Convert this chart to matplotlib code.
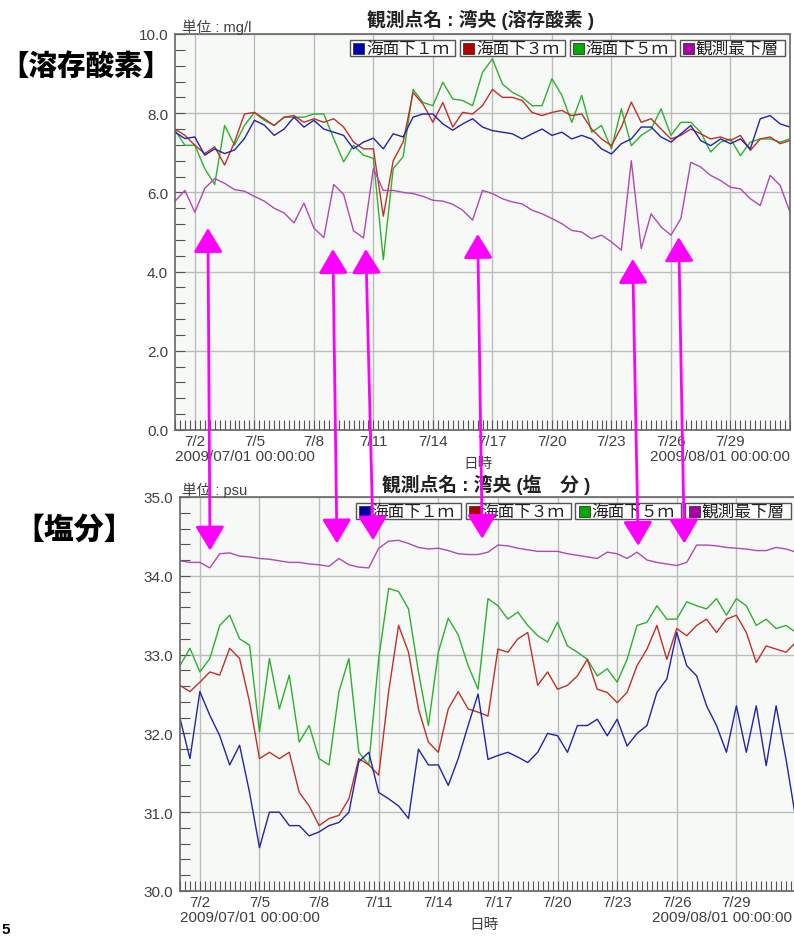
import numpy as np
import pandas as pd
import matplotlib
matplotlib.use('Agg')
import matplotlib.pyplot as plt
import matplotlib.dates as mdates
from matplotlib.patches import ConnectionPatch, Rectangle, ArrowStyle
from matplotlib.ticker import MultipleLocator, FormatStrFormatter

plt.rcParams['font.family'] = ['Liberation Sans', 'Noto Sans CJK JP']

# 12時間ごとの読み取り値 (2009/07/01 00:00 〜 2009/08/01 00:00)
start = pd.Timestamp('2009-07-01')
times = pd.date_range(start, periods=63, freq='12h')

series_labels = ['海面下１ｍ', '海面下３ｍ', '海面下５ｍ', '観測最下層']

# 溶存酸素 (mg/l)
do_1m = [7.52, 7.36, 7.4, 6.94, 7.1, 6.98, 7.07, 7.36, 7.82, 7.7, 7.44, 7.6, 7.9, 7.65, 7.82, 7.6,
         7.52, 7.44, 7.1, 7.27, 7.37, 7.1, 7.48, 7.4, 7.9, 7.98, 7.98, 7.73, 7.57, 7.73, 7.86, 7.65,
         7.56, 7.52, 7.48, 7.35, 7.48, 7.6, 7.44, 7.52, 7.35, 7.44, 7.35, 7.1, 6.97, 7.23, 7.35, 7.65,
         7.65, 7.4, 7.27, 7.48, 7.69, 7.31, 7.18, 7.35, 7.23, 7.35, 7.1, 7.86, 7.94, 7.73, 7.65]
do_3m = [7.6, 7.44, 7.19, 6.98, 7.15, 6.69, 7.27, 7.98, 8.02, 7.86, 7.69, 7.9, 7.94, 7.77, 7.86, 7.77,
         7.86, 7.65, 7.27, 7.1, 7.1, 5.4, 6.8, 7.27, 8.52, 8.23, 7.77, 8.27, 7.65, 8.02, 7.98, 8.19,
         8.6, 8.4, 8.4, 8.32, 8.02, 7.94, 8.02, 8.07, 7.94, 7.98, 7.6, 7.35, 7.18, 7.65, 8.28, 7.77,
         7.86, 7.6, 7.35, 7.44, 7.6, 7.48, 7.35, 7.4, 7.31, 7.44, 7.06, 7.35, 7.4, 7.23, 7.31]
do_5m = [7.57, 7.19, 7.19, 6.6, 6.2, 7.69, 7.19, 7.69, 8.02, 7.82, 7.69, 7.9, 7.9, 7.9, 7.98, 7.98,
         7.36, 6.77, 7.19, 6.94, 6.86, 4.3, 6.6, 6.9, 8.6, 8.27, 8.19, 8.78, 8.36, 8.32, 8.19, 9.03,
         9.37, 8.74, 8.53, 8.4, 8.19, 8.19, 8.87, 8.45, 7.77, 8.45, 7.52, 7.69, 7.1, 8.11, 7.18, 7.44,
         7.6, 8.11, 7.44, 7.77, 7.77, 7.52, 7.02, 7.27, 7.35, 6.93, 7.27, 7.35, 7.35, 7.27, 7.35]
do_bottom = [5.78, 6.05, 5.5, 6.1, 6.35, 6.23, 6.07, 6.03, 5.9, 5.78, 5.6, 5.48, 5.23, 5.73, 5.1, 4.86,
             6.2, 5.95, 5.03, 4.85, 6.6, 6.05, 6.05, 6.0, 5.97, 5.9, 5.8, 5.78, 5.7, 5.55, 5.3, 6.05,
             5.97, 5.84, 5.76, 5.71, 5.55, 5.46, 5.34, 5.21, 5.04, 5.0, 4.83, 4.92, 4.75, 4.54, 6.8, 4.58,
             5.46, 5.13, 4.92, 5.34, 6.76, 6.64, 6.43, 6.3, 6.13, 6.09, 5.84, 5.67, 6.43, 6.18, 5.5]

# 塩分 (psu)
sal_1m = [32.19, 31.68, 32.53, 32.23, 31.97, 31.6, 31.85, 31.25, 30.55, 31.0, 31.0, 30.83, 30.83, 30.7, 30.75, 30.83,
          30.87, 31.0, 31.64, 31.76, 31.25, 31.17, 31.08, 30.92, 31.8, 31.6, 31.6, 31.34, 31.68, 32.1, 32.5, 31.67,
          31.72, 31.76, 31.7, 31.63, 31.76, 32.0, 31.97, 31.76, 32.1, 32.1, 32.18, 31.97, 32.18, 31.84, 32.0, 32.1,
          32.52, 32.69, 33.28, 32.86, 32.73, 32.35, 32.1, 31.76, 32.35, 31.76, 32.35, 31.59, 32.35, 31.67, 30.9]
sal_3m = [32.61, 32.53, 32.65, 32.78, 32.74, 33.08, 32.95, 32.4, 31.68, 31.76, 31.68, 31.76, 31.25, 31.08, 30.83, 30.92,
          30.96, 31.17, 31.68, 31.6, 31.47, 32.53, 33.37, 33.03, 32.31, 31.89, 31.76, 32.31, 32.53, 32.31, 32.27, 32.22,
          33.07, 33.03, 33.2, 33.28, 32.61, 32.78, 32.56, 32.61, 32.73, 32.94, 32.56, 32.52, 32.39, 32.52, 32.86, 33.07,
          33.37, 32.94, 33.33, 33.24, 33.37, 33.45, 33.28, 33.45, 33.5, 33.28, 32.9, 33.11, 33.07, 33.03, 33.16]
sal_5m = [32.86, 33.08, 32.78, 32.95, 33.37, 33.5, 33.2, 33.12, 32.02, 32.95, 32.31, 32.74, 31.89, 32.1, 31.68, 31.6,
          32.53, 32.95, 31.76, 31.6, 32.95, 33.84, 33.8, 33.58, 32.78, 32.1, 33.03, 33.46, 33.25, 32.86, 32.56, 33.71,
          33.62, 33.45, 33.54, 33.37, 33.24, 33.16, 33.41, 33.11, 33.03, 32.94, 32.73, 32.82, 32.65, 32.94, 33.37, 33.41,
          33.62, 33.45, 33.45, 33.67, 33.62, 33.58, 33.71, 33.5, 33.71, 33.62, 33.37, 33.45, 33.33, 33.37, 33.28]
sal_bottom = [34.19, 34.17, 34.17, 34.1, 34.28, 34.29, 34.25, 34.24, 34.22, 34.21, 34.19, 34.17, 34.17, 34.15, 34.14, 34.12,
              34.22, 34.14, 34.11, 34.1, 34.35, 34.44, 34.45, 34.41, 34.36, 34.34, 34.35, 34.32, 34.28, 34.27, 34.27, 34.3,
              34.39, 34.38, 34.35, 34.33, 34.31, 34.31, 34.31, 34.28, 34.26, 34.24, 34.22, 34.3, 34.28, 34.22, 34.3, 34.2,
              34.17, 34.15, 34.13, 34.17, 34.39, 34.39, 34.38, 34.36, 34.35, 34.34, 34.32, 34.32, 34.36, 34.34, 34.3]

# x軸の目盛り
tick_days = [2, 5, 8, 11, 14, 17, 20, 23, 26, 29]
tick_labels = ['7/2', '7/5', '7/8', '7/11', '7/14', '7/17', '7/20', '7/23', '7/26', '7/29']

# 矢印 (7/1 からの日数, 値)
arrow_top_day = [1.66, 7.96, 9.62, 15.26, 23.07, 25.39]
arrow_top_val = [5.1, 4.57, 4.57, 4.95, 4.32, 4.87]
arrow_bot_day = [1.51, 7.9, 9.72, 15.21, 23.06, 25.38]
arrow_bot_val = [34.32, 34.41, 34.45, 34.47, 34.38, 34.41]

line_colors = ['#2424a6', '#c0302a', '#2eb02e', '#b447b4']
key_colors = ['#0000aa', '#b00000', '#00aa00', '#aa00aa']

W, H = 794, 937
fig = plt.figure(figsize=(W / 100, H / 100), dpi=100)


def box(l, t, r, b):
    return [l / W, 1 - b / H, (r - l) / W, (b - t) / H]


ax1 = fig.add_axes(box(175, 35, 790, 431))
ax2 = fig.add_axes(box(180, 498, 796, 892))


def setup(ax, ymin, ymax, major, minor, right_x):
    ax.set_facecolor('#f6f9f6')
    ax.set_xlim(start, pd.Timestamp('2009-08-01'))
    ax.set_ylim(ymin, ymax)
    ax.set_xticks([start + pd.Timedelta(days=d - 1) for d in tick_days])
    ax.set_xticklabels(tick_labels)
    ax.xaxis.set_minor_locator(mdates.HourLocator(byhour=[0, 6, 12, 18]))
    ax.yaxis.set_major_locator(MultipleLocator(major))
    ax.yaxis.set_minor_locator(MultipleLocator(minor))
    ax.yaxis.set_major_formatter(FormatStrFormatter('%.1f'))
    ax.tick_params(which='both', direction='in', length=7, width=0.8, color='#555555')
    ax.tick_params(axis='x', which='major', pad=3, labelsize=11, labelcolor='#404040')
    ax.tick_params(axis='y', which='major', pad=5, labelsize=11, labelcolor='#404040')
    ax.grid(True, which='major', color='#bcbcbc', lw=1)
    for s in ax.spines.values():
        s.set_color('#666666')
        s.set_linewidth(1.2)
    ax.text(0, -0.066, '2009/07/01 00:00:00', transform=ax.transAxes, ha='left', va='center',
            fontsize=11, color='#404040')
    ax.text(right_x, -0.066, '2009/08/01 00:00:00', transform=ax.transAxes, ha='right', va='center',
            fontsize=11, color='#404040')
    ax.text(0.493, -0.083, '日時', transform=ax.transAxes, ha='center', va='center',
            fontsize=10.5, color='#404040')
    # 凡例
    for i, lab in enumerate(series_labels):
        x0 = 0.285 + i * 0.1785
        ax.add_patch(Rectangle((x0, 0.944), 0.171, 0.040, transform=ax.transAxes,
                               fc='white', ec='#555555', lw=1, zorder=5))
        ax.add_patch(Rectangle((x0 + 0.005, 0.950), 0.018, 0.028, transform=ax.transAxes,
                               fc=key_colors[i], ec='#333333', lw=0.6, zorder=6))
        ax.text(x0 + 0.026, 0.9645, lab, transform=ax.transAxes, ha='left', va='center',
                fontsize=12, color='#222222', zorder=7)


setup(ax1, 0, 10, 2, 0.4, 1.0)
setup(ax2, 30, 35, 1, 0.2, 0.993)

for vals, c in zip([do_5m, do_3m, do_1m, do_bottom], [line_colors[2], line_colors[1], line_colors[0], line_colors[3]]):
    ax1.plot(times, vals, color=c, lw=1.0)
for vals, c in zip([sal_5m, sal_3m, sal_1m, sal_bottom], [line_colors[2], line_colors[1], line_colors[0], line_colors[3]]):
    ax2.plot(times, vals, color=c, lw=1.0)

fig.text(480 / W, 1 - 20 / H, '観測点名 : 湾央 (溶存酸素 )', ha='center', va='center',
         fontsize=13.5, weight='bold', color='#222222')
fig.text(486 / W, 1 - 485 / H, '観測点名 : 湾央 (塩\u3000分 )', ha='center', va='center',
         fontsize=13.5, weight='bold', color='#222222')
fig.text(182 / W, 1 - 27 / H, '単位 : mg/l', ha='left', va='center', fontsize=10.5, color='#404040')
fig.text(182 / W, 1 - 490 / H, '単位 : psu', ha='left', va='center', fontsize=10.5, color='#404040')

fig.text(0, 1 - 67 / H, '【溶存酸素】', ha='left', va='center', fontsize=20.5, weight='heavy', color='black')
fig.text(14 / W, 1 - 530 / H, '【塩分】', ha='left', va='center', fontsize=21.5, weight='heavy', color='black')
fig.text(1 / W, 1 - 930 / H, '5', ha='left', va='center', fontsize=11, weight='bold', color='black')

# 上下のグラフを結ぶ矢印
style = ArrowStyle('<|-|>', head_length=1.0, head_width=0.6)
for td, tv, bd, bv in zip(arrow_top_day, arrow_top_val, arrow_bot_day, arrow_bot_val):
    xa = mdates.date2num(start + pd.Timedelta(days=td))
    xb = mdates.date2num(start + pd.Timedelta(days=bd))
    con = ConnectionPatch(xyA=(xa, tv), coordsA=ax1.transData, xyB=(xb, bv), coordsB=ax2.transData,
                          arrowstyle=style, mutation_scale=15, color='#ff00ff', lw=2,
                          shrinkA=0, shrinkB=0, zorder=20)
    fig.add_artist(con)

fig.savefig('out.png', dpi=100)
